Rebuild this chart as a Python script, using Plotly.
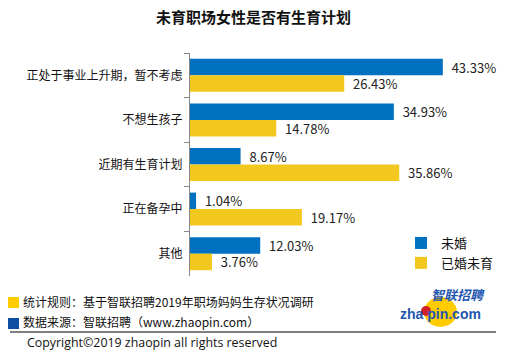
import plotly.graph_objects as go

categories = ["正处于事业上升期，暂不考虑", "不想生孩子", "近期有生育计划", "正在备孕中", "其他"]
unmarried = [43.33, 34.93, 8.67, 1.04, 12.03]
married_no_child = [26.43, 14.78, 35.86, 19.17, 3.76]
series_names = ["未婚", "已婚未育"]

W, H = 506, 358
L, R, T, B = 190, 26, 53, 82
PW, PH = W - L - R, H - T - B

def px(x):
    return (x - L) / PW

def py(y):
    return (H - B - y) / PH

FONT = "Noto Sans CJK SC"
BLUE = "#0070C0"
YELLOW = "#F2C71E"

fig = go.Figure()
fig.add_trace(go.Bar(
    y=categories, x=unmarried, orientation="h", name=series_names[0],
    marker=dict(color=BLUE, line=dict(width=0)),
    text=[f"  {v:.2f}%" for v in unmarried], textposition="outside",
    textfont=dict(size=13, color="#222"), constraintext="none", cliponaxis=False,
))
fig.add_trace(go.Bar(
    y=categories, x=married_no_child, orientation="h", name=series_names[1],
    marker=dict(color=YELLOW, line=dict(width=0)),
    text=[f"  {v:.2f}%" for v in married_no_child], textposition="outside",
    textfont=dict(size=13, color="#222"), constraintext="none", cliponaxis=False,
))

shapes = [
    dict(type="rect", xref="paper", yref="paper", x0=px(8), x1=px(19), y0=py(308), y1=py(297),
         fillcolor="#FFCC00", line=dict(width=0)),
    dict(type="rect", xref="paper", yref="paper", x0=px(8), x1=px(19), y0=py(329), y1=py(318),
         fillcolor="#0B4EA2", line=dict(width=0)),
    dict(type="line", xref="paper", yref="paper", x0=px(10), x1=px(496), y0=py(332), y1=py(332),
         line=dict(color="#000", width=1)),
    dict(type="circle", xref="paper", yref="paper", x0=px(424), x1=px(457), y0=py(327), y1=py(297),
         fillcolor="#FFCC00", line=dict(width=0), layer="below"),
    dict(type="circle", xref="paper", yref="paper", x0=px(421), x1=px(431), y0=py(316), y1=py(306),
         fillcolor="#D0202A", line=dict(width=0)),
]

annotations = [
    dict(text="<b>未育职场女性是否有生育计划</b>", xref="paper", yref="paper", x=px(253), y=py(17),
         showarrow=False, font=dict(size=15, color="#111", family=FONT), xanchor="center", yanchor="middle"),
    dict(text="统计规则：基于智联招聘2019年职场妈妈生存状况调研", xref="paper", yref="paper", x=px(21), y=py(301),
         showarrow=False, font=dict(size=12, color="#111", family=FONT), xanchor="left", yanchor="middle"),
    dict(text="数据来源：智联招聘（www.zhaopin.com）", xref="paper", yref="paper", x=px(21), y=py(321),
         showarrow=False, font=dict(size=12, color="#111", family=FONT), xanchor="left", yanchor="middle"),
    dict(text="Copyright©2019 zhaopin all rights reserved", xref="paper", yref="paper", x=px(25), y=py(342),
         showarrow=False, font=dict(size=12.4, color="#111", family="Open Sans"), xanchor="left", yanchor="middle"),
    dict(text="<b><i>智联招聘</i></b>", xref="paper", yref="paper", x=px(458), y=py(305),
         showarrow=False, font=dict(size=13, color="#1F56B0", family=FONT), xanchor="center", yanchor="bottom",
         borderpad=0),
    dict(text="<b>zha pin.com</b>", xref="paper", yref="paper", x=px(440), y=py(305),
         showarrow=False, font=dict(size=14, color="#1F56B0", family="Liberation Sans"), xanchor="center", yanchor="top",
         borderpad=0),
]

fig.update_layout(
    width=W, height=H,
    margin=dict(l=L, r=R, t=T, b=B, autoexpand=False),
    paper_bgcolor="white", plot_bgcolor="white",
    barmode="group", bargap=0.26, bargroupgap=0,
    font=dict(family=FONT, size=12, color="#111"),
    showlegend=True,
    legend=dict(x=px(401), y=py(228), xanchor="left", yanchor="top",
                font=dict(size=13, color="#111"), bgcolor="rgba(0,0,0,0)",
                itemwidth=30, tracegroupgap=0),
    xaxis=dict(range=[0, 49.7], visible=False, showgrid=False, zeroline=False, fixedrange=True,
               automargin=False),
    yaxis=dict(autorange="reversed", showline=True, linecolor="#888", linewidth=1,
               ticks="outside", ticklen=5, tickcolor="#888", tickson="boundaries", automargin=False,
               showgrid=False, tickfont=dict(size=12, color="#111"), ticklabelstandoff=4),
    shapes=shapes, annotations=annotations,
)

fig.write_html("out.html", config={"displayModeBar": False},
               post_script="document.body.style.margin='0';document.body.style.overflow='hidden';")
